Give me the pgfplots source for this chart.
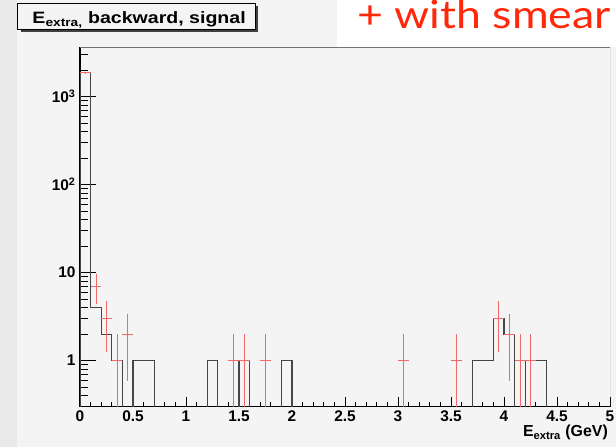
\documentclass[border=0pt]{standalone}
\usepackage{pgfplots}
\pgfplotsset{compat=1.18}
\usepackage{pgfplotstable}
\usepackage{fontspec}
\setmainfont{Liberation Sans}
\newfontfamily\slidefont{Lato}

\definecolor{canvasbg}{RGB}{244,244,244}
\definecolor{stripbg}{RGB}{233,233,233}
\definecolor{histline}{RGB}{70,70,70}
\definecolor{smearred}{RGB}{240,105,105}
\definecolor{slidered}{RGB}{255,40,10}

% smeared sample: bin centre, content, half bin width, Poisson errors
\pgfplotstableread{
x    y     ex    ep    em
0.05 1871  0.05  43.3  43.3
0.15 7     0.05  2.65  2.65
0.25 3     0.05  1.73  1.73
0.35 1     0.05  1.0   0.999
0.45 2     0.05  1.41  1.41
1.45 1     0.05  1.0   0.999
1.55 1     0.05  1.0   0.999
1.75 1     0.05  1.0   0.999
3.05 1     0.05  1.0   0.999
3.55 1     0.05  1.0   0.999
3.95 3     0.05  1.73  1.73
4.05 2     0.05  1.41  1.41
4.15 1     0.05  1.0   0.999
4.25 1     0.05  1.0   0.999
}\smeared

\begin{document}
\begin{tikzpicture}[x=1bp,y=1bp]
\useasboundingbox (0,0) rectangle (616,447);
\clip (0,0) rectangle (616,447);
\fill[canvasbg] (0,0) rectangle (616,447);
\fill[stripbg] (0,0) rectangle (17,447);
\fill[white] (337,400.3) rectangle (616,447);

\node[anchor=base west, inner sep=0, text=slidered,
      font=\slidefont\fontsize{39}{39}\selectfont] at (357,418.5)
      {\scalebox{1.15}[1]{+ with smear}};

% title box with drop shadow
\fill[black!75] (20.5,415) rectangle (258,441);
\filldraw[fill=canvasbg, draw=black, line width=0.8bp] (17.7,417.7) rectangle (255.7,443.7);
\node[anchor=base west, inner sep=0,
      font=\bfseries\fontsize{16.5}{16.5}\selectfont] at (32.3,423.5)
      {\scalebox{1.19}[1]{E\textsubscript{extra,} backward, signal}};

\begin{axis}[
  at={(80bp,40.3bp)}, anchor=south west,
  scale only axis, width=530bp, height=359.4bp,
  xmin=0, xmax=5,
  ymode=log, ymin=0.3, ymax=3640,
  axis x line*=bottom, axis y line*=left,
  axis line style={black, line width=1.1bp, -},
  tick align=inside,
  xtick={0,0.5,1,1.5,2,2.5,3,3.5,4,4.5,5},
  xticklabels={0,0.5,1,1.5,2,2.5,3,3.5,4,4.5,5},
  minor x tick num=4,
  ytick={1,10,100,1000},
  yticklabels={1,10,10\textsuperscript{2},10\textsuperscript{3}},
  minor ytick={0.4,0.5,0.6,0.7,0.8,0.9,2,3,4,5,6,7,8,9,20,30,40,50,60,70,80,90,200,300,400,500,600,700,800,900,2000,3000},
  xtick style={black, line width=0.8bp, /pgfplots/major tick length=10bp, /pgfplots/minor tick length=5bp},
  ytick style={black, line width=0.8bp, /pgfplots/major tick length=16bp, /pgfplots/minor tick length=8bp},
  ticklabel style={font=\bfseries\fontsize{15.5}{15.5}\selectfont},
  xticklabel style={yshift=-1bp},
  yticklabel style={xshift=-1bp},
  clip=true,
]
% reconstructed E_extra histogram, 0.1 GeV bins
\addplot[const plot, histline, line width=1.1bp] coordinates {
  (0,0.01) (0,1875) (0.1,4) (0.2,2) (0.3,1) (0.4,0.01)
  (0.5,1) (0.6,1) (0.7,0.01)
  (1.2,1) (1.3,0.01)
  (1.5,1) (1.6,0.01)
  (1.9,1) (2.0,0.01)
  (3.7,1) (3.8,1) (3.9,3) (4.0,2) (4.1,0.01)
  (4.2,1) (4.3,1) (4.4,0.01) (5,0.01)
};
% smeared sample with error bars
\addplot[draw=none, mark=none,
  error bars/.cd, x dir=both, x explicit, y dir=both, y explicit,
  error mark=none, error bar style={draw=smearred, line width=0.8bp}]
  table[x=x, y=y, x error=ex, y error plus=ep, y error minus=em] {\smeared};
\draw[black!55, line width=0.8bp] (rel axis cs:0,1) -- (rel axis cs:1,1) -- (rel axis cs:1,0);
\end{axis}

\node[anchor=base east, inner sep=0,
      font=\bfseries\fontsize{16}{16}\selectfont] at (608,10.5)
      {E\textsubscript{extra} (GeV)};
\end{tikzpicture}
\end{document}
